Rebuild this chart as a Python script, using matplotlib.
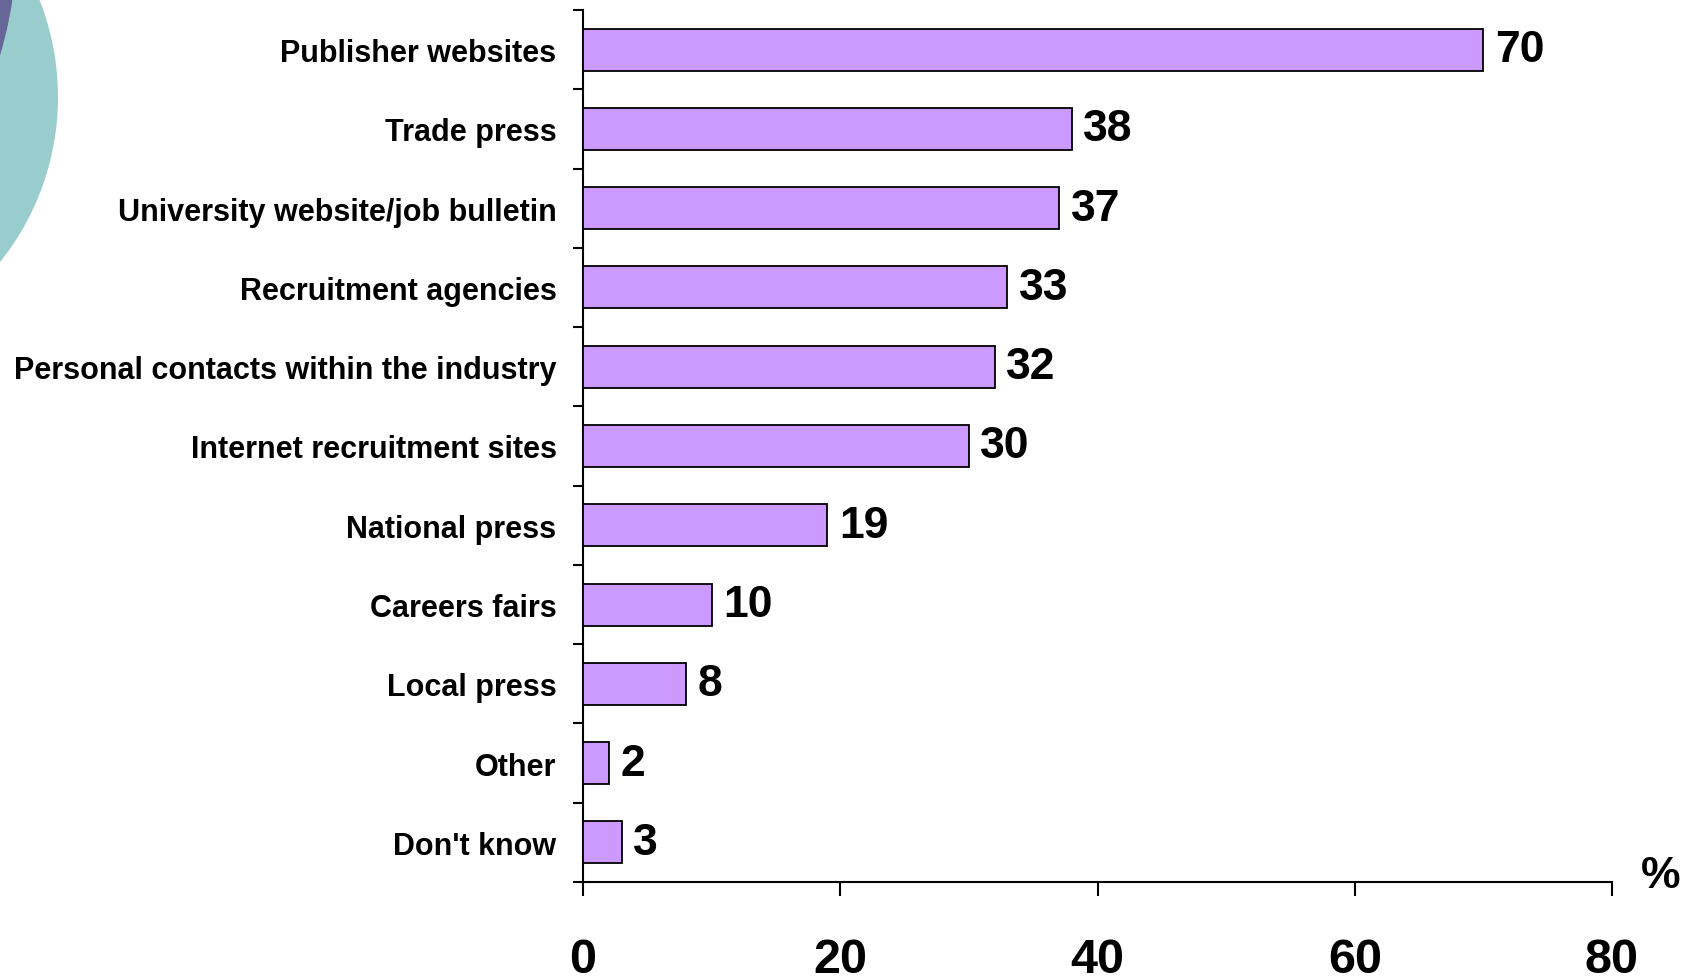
import matplotlib
matplotlib.use("Agg")
import matplotlib.pyplot as plt
from matplotlib.patches import Ellipse

categories = ["Publisher websites", "Trade press", "University website/job bulletin",
              "Recruitment agencies", "Personal contacts within the industry",
              "Internet recruitment sites", "National press", "Careers fairs",
              "Local press", "Other", "Don't know"]
values = [70, 38, 37, 33, 32, 30, 19, 10, 8, 2, 3]
xticks = [0, 20, 40, 60, 80]

W, H = 1694, 979
fig = plt.figure(figsize=(W / 100, H / 100), dpi=100)

# decorative circles in the top-left corner (pixel coords -> figure fraction)
def circ(cx, cy, r, color):
    e = Ellipse((cx / W, 1 - cy / H), 2 * r / W, 2 * r / H,
                transform=fig.transFigure, color=color, lw=0, zorder=0)
    fig.add_artist(e)

circ(-206, 98, 264, "#99CCCC")
circ(-391, -60, 408, "#666699")

ax = fig.add_axes([583 / W, 1 - 883 / H, (1612 - 583) / W, (883 - 11) / H])
ax.patch.set_alpha(0)

n = len(categories)
ypos = [n - 1 - i + 0.5 for i in range(n)]
ax.barh(ypos, values, height=0.53, color="#CC99FF", edgecolor="black", linewidth=1.3, zorder=3)

fam = ["Liberation Sans", "DejaVu Sans"]
for y, v in zip(ypos, values):
    ax.text(v + 0.9, y, str(v), va="center", ha="left", fontsize=32,
            fontweight="bold", family=fam)

ax.set_xlim(0, 80)
ax.set_ylim(0, n)
ax.set_xticks(xticks)
ax.set_xticklabels([str(t) for t in xticks], fontsize=35, fontweight="bold", family=fam)
for lab in ax.get_xticklabels():
    lab.set_va("center")
ax.tick_params(axis="x", length=10, width=1.5, pad=46, direction="out")

ax.set_yticks(range(n + 1))
ax.set_yticklabels([])
ax.tick_params(axis="y", which="major", length=7, width=1.5, direction="out")
ax.set_yticks(ypos, minor=True)
ax.set_yticklabels(categories, minor=True, fontsize=22, fontweight="bold", family=fam)
ax.tick_params(axis="y", which="minor", length=0, pad=19)

for s in ["top", "right"]:
    ax.spines[s].set_visible(False)
for s in ["left", "bottom"]:
    ax.spines[s].set_linewidth(1.5)

ax.text(1.047, 0.007, "%", transform=ax.transAxes, fontsize=32, fontweight="bold",
        family=fam, ha="center", va="center")

fig.savefig("out.png", dpi=100)
